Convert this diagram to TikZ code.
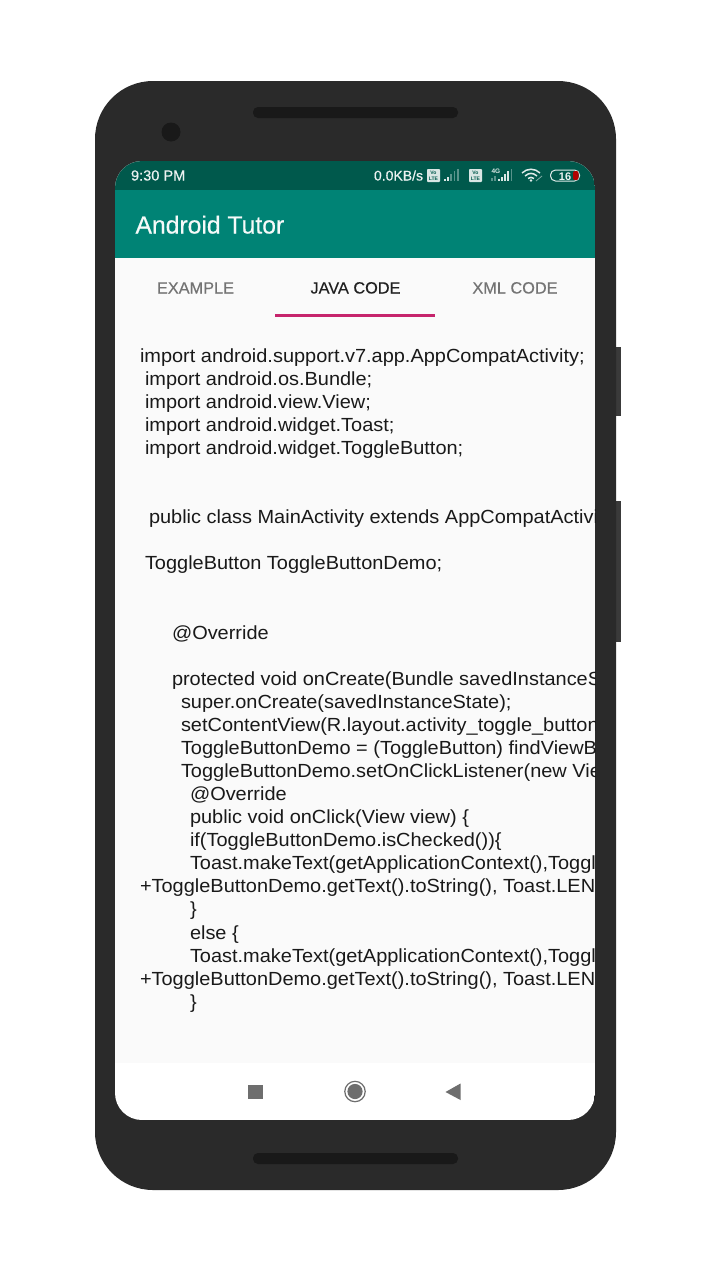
\documentclass[tikz,border=0pt]{standalone}
\usepackage{fontspec}
\setmainfont{Liberation Sans}
\newfontfamily\codef[FakeStretch=1.05]{Liberation Sans}
\newfontfamily\medf[FakeBold=0.35]{Liberation Sans}
\definecolor{frame}{HTML}{2A2A2A}
\definecolor{sidec}{HTML}{3A3A3A}
\definecolor{dark}{HTML}{191919}
\definecolor{statusc}{HTML}{00594C}
\definecolor{barc}{HTML}{008375}
\definecolor{pagec}{HTML}{FAFAFA}
\definecolor{pinkc}{HTML}{C6246C}
\definecolor{navc}{HTML}{6E6E6E}
\tikzset{
 txt/.style={anchor=base west,inner sep=0pt,outer sep=0pt},
 code/.style={txt,font=\codef\fontsize{19}{20}\selectfont,text=black!90},
 tab/.style={anchor=base,inner sep=0pt,font=\medf\fontsize{16.3}{18}\selectfont},
 stat/.style={txt,text=white!92!statusc,font=\medf\fontsize{14.6}{16}\selectfont},
 ico/.style={fill=white!85!statusc,draw=none},
 icod/.style={fill=white!35!statusc,draw=none},
 volte/.style={anchor=center,inner sep=0pt,text=statusc,font=\fontsize{5}{5}\selectfont\bfseries}
}
\begin{document}
\begin{tikzpicture}[x=1pt,y=-1pt]
\useasboundingbox (0,0) rectangle (711,1280);
\fill[white] (0,0) rectangle (711,1280);
% side buttons
\fill[sidec] (610,347) rectangle (620.5,416);
\fill[sidec] (610,501) rectangle (620.5,642);
% body
\fill[frame,rounded corners=58pt] (95,81) rectangle (616,1190);
\fill[dark,rounded corners=5pt] (253,107) rectangle (458,118);
\fill[dark,rounded corners=5pt] (253,1153) rectangle (458,1164);
\fill[dark] (171,132) circle (9.5);
% screen
\begin{scope}
\clip[rounded corners=27pt] (115,161) rectangle (595,1120);
\fill[white] (115,161) rectangle (595,1120);
\fill[statusc] (115,161) rectangle (595,190);
\fill[barc] (115,190) rectangle (595,258);
\fill[pagec] (115,258) rectangle (595,1063);
\fill[pinkc] (275,314) rectangle (435,317);
\node[stat] (clock) at (131,180.5) {9:30 PM};
\node[stat,font=\medf\fontsize{14}{16}\selectfont] (speed) at (374,180.5) {0.0KB/s};
\node[txt] (title) at (135.5,233.5) [text=white!96!barc,font=\medf\fontsize{24.7}{26}\selectfont] {Android Tutor};
\node[tab,text=black!55] (tab1) at (195.5,293.5) {EXAMPLE};
\node[tab,text=black!88] (tab2) at (355.5,293.5) {JAVA CODE};
\node[tab,text=black!55] (tab3) at (515,293.5) {XML CODE};
\node[code] (l1) at (140,362) {import android.support.v7.app.AppCompatActivity;};
\node[code] (l2) at (145,385) {import android.os.Bundle;};
\node[code] (l3) at (145,408) {import android.view.View;};
\node[code] (l4) at (145,431) {import android.widget.Toast;};
\node[code] (l5) at (145,454) {import android.widget.ToggleButton;};
\node[code] (l6) at (149,523.5) {public class MainActivity extends AppCompatActivi};
\node[code] (l7) at (145,569.5) {ToggleButton ToggleButtonDemo;};
\node[code] (l8) at (172,639) {@Override};
\node[code] (l9) at (172,685) {protected void onCreate(Bundle savedInstanceSt};
\node[code] (l10) at (181,708) {super.onCreate(savedInstanceState);};
\node[code] (l11) at (181,731) {setContentView(R.layout.activity\_toggle\_button)};
\node[code] (l12) at (181,754) {ToggleButtonDemo = (ToggleButton) findViewBy};
\node[code] (l13) at (181,777) {ToggleButtonDemo.setOnClickListener(new View};
\node[code] (l14) at (190,800.5) {@Override};
\node[code] (l15) at (190,823.5) {public void onClick(View view) \{};
\node[code] (l16) at (190,846.5) {if(ToggleButtonDemo.isChecked())\{};
\node[code] (l17) at (190,869.5) {Toast.makeText(getApplicationContext(),Toggl};
\node[code] (l18) at (140,892.5) {+ToggleButtonDemo.getText().toString(), Toast.LENG};
\node[code] (l19) at (190,915.5) {\}};
\node[code] (l20) at (190,939) {else \{};
\node[code] (l21) at (190,962) {Toast.makeText(getApplicationContext(),Toggl};
\node[code] (l22) at (140,985) {+ToggleButtonDemo.getText().toString(), Toast.LENG};
\node[code] (l23) at (190,1008) {\}};
\end{scope}
% status icons
\fill[ico,rounded corners=.8pt] (427,169) rectangle (440,182);
\node[volte] (v1a) at (433.5,172.5) {Vo};
\node[volte] (v1b) at (433.5,178.3) {LTE};
\foreach \x/\h in {444/2,447/4}{\fill[ico] (\x,180.5-\h) rectangle (\x+1.6,180.5);}
\foreach \x/\h in {450/7,453.5/10,457/12}{\fill[icod] (\x,180.5-\h) rectangle (\x+1.6,180.5);}
\fill[ico,rounded corners=.8pt] (469,169) rectangle (482,182);
\node[volte] (v2a) at (475.5,172.5) {Vo};
\node[volte] (v2b) at (475.5,178.3) {LTE};
\node[txt,text=white!85!statusc,font=\fontsize{6.5}{7}\selectfont\bfseries] (fourg) at (491.5,173.5) {4G};
\foreach \x/\h in {491/3,494/5}{\fill[icod] (\x,180.5-\h) rectangle (\x+1.5,180.5);}
\foreach \x/\h in {498/2,501/4,504/7,507/10}{\fill[ico] (\x,180.5-\h) rectangle (\x+1.7,180.5);}
\fill[icod] (511,169) rectangle (512.3,180.5);
% wifi
\draw[white!88!statusc,line width=1.5pt] (522,173) .. controls (527,168) and (535,168) .. (540,173);
\draw[white!88!statusc,line width=1.5pt] (525,176) .. controls (529,172.5) and (533,172.5) .. (537,176);
\draw[white!88!statusc,line width=1.5pt] (528,178.5) .. controls (530,177) and (532,177) .. (534,178.5);
\fill[white!88!statusc] (531,180.5) circle (1.4);
\draw[white!50!statusc,line width=.8pt] (536,181) -- (542,176);
% battery
\draw[white!88!statusc,line width=1pt,rounded corners=5pt] (550.5,170) rectangle (579.5,181);
\fill[red!70!black,rounded corners=2pt] (573,171) rectangle (578.5,180);
\node[anchor=base,inner sep=0pt,text=white!92!statusc,font=\fontsize{11}{12}\selectfont\bfseries] (batt) at (565,180) {16};
% nav bar
\fill[navc] (248,1084.5) rectangle (263,1099);
\draw[navc,line width=1.2pt] (355,1091.5) circle (10.2);
\fill[navc] (355,1091.5) circle (7.6);
\fill[navc] (460.5,1083.5) -- (460.5,1100) -- (445.5,1092) -- cycle;
\end{tikzpicture}
\end{document}
